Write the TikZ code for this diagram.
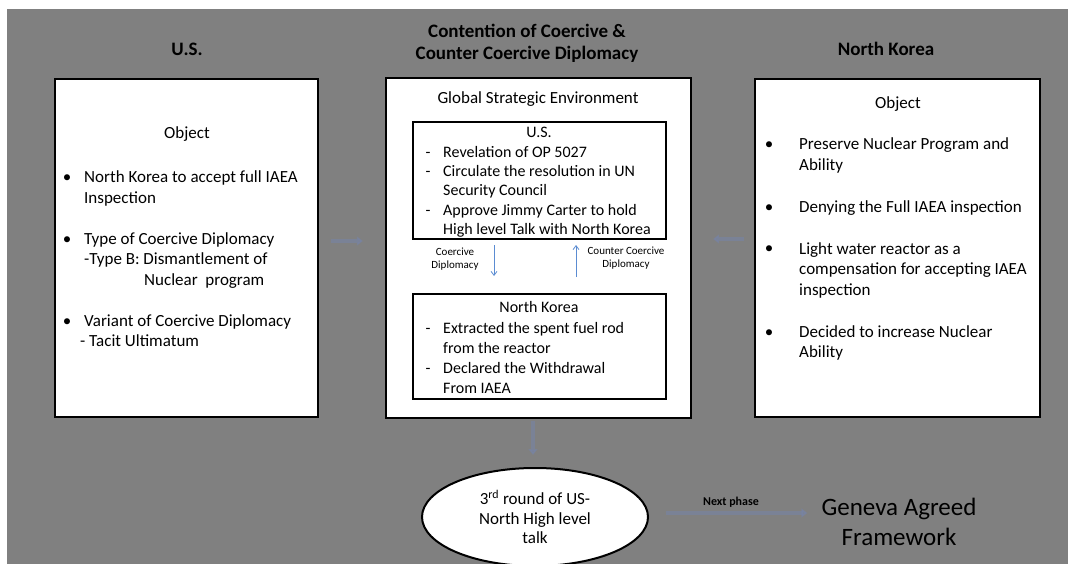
\documentclass[tikz,border=0pt]{standalone}
\usepackage{fontspec}
\setmainfont{Carlito}
\usepackage{tikz}
\usetikzlibrary{arrows.meta, positioning, shapes.geometric}

\newcommand{\txtbody}{\fontsize{17}{20.7}\selectfont}
\newcommand{\txtmid}{\fontsize{16}{19}\selectfont}

\begin{document}
\begin{tikzpicture}[x=1pt, y=-1pt, every node/.style={inner sep=0pt}]

% ------------------------
% Colors
% ------------------------
\definecolor{colBg}{RGB}{128,128,128}
\definecolor{colFaint}{RGB}{118,132,172}
\definecolor{colArr}{RGB}{91,140,210}

\tikzset{
  panel/.style={draw=black, line width=2.2pt, fill=white},
  inner/.style={draw=black, line width=2pt, fill=white},
  ttl/.style={font=\fontsize{19}{22}\selectfont\bfseries, align=center, anchor=base},
  txt/.style={font=\txtbody, align=left, anchor=base west},
  mtxt/.style={font=\txtmid, align=left, anchor=base west},
  small/.style={font=\fontsize{11}{13.5}\selectfont, align=center},
  faint/.style={draw=colFaint, opacity=0.5, line width=4pt, -{Triangle[width=9pt,length=6pt]}},
  thin/.style={draw=colArr, line width=0.8pt, -{Straight Barb[length=4pt,width=6pt]}}
}

% background
\useasboundingbox (0,0) rectangle (1068,564);
\fill[colBg] (7,9) rectangle (1068,564);

% ------------------------
% Titles
% ------------------------
% (base of a multi-line node = baseline of its last line)
\node[ttl] (usTitle) at (187,56) {U.S.};
\node[ttl] (midTitle) at (527,60) {Contention of Coercive \&\\Counter Coercive Diplomacy};
\node[ttl] (nkTitle) at (886,56) {North Korea};

% ------------------------
% LEFT: U.S. object
% ------------------------
\node[panel, minimum width=263pt, minimum height=338pt] (usBox) at (186.5,248) {};
\node[font=\txtbody, anchor=base] (usObj) at (187,139) {Object};
\foreach \yb [count=\i] in {183,244,326} {
    \node[font=\txtbody, anchor=base] (usDot\i) at (67,\yb) {\textbullet};
}
\node[txt] (usItemA) at (84,203.7) {North Korea to accept full IAEA\\Inspection};
\node[txt] (usItemB) at (84,285.4) {Type of Coercive Diplomacy\\-Type B: Dismantlement of\\\hspace*{60pt}Nuclear\ \ program};
\node[txt] (usItemC) at (84,346.7) {Variant of Coercive Diplomacy\\\hspace*{-4pt}- Tacit Ultimatum};

% ------------------------
% MIDDLE: strategic environment
% ------------------------
\node[panel, minimum width=305pt, minimum height=340pt] (midBox) at (538.5,248) {};
\node[font=\txtbody, anchor=base] (envTitle) at (538,104) {Global Strategic Environment};

% U.S. actions
\node[inner, minimum width=253pt, minimum height=117pt] (usAct) at (539.5,180.5) {};
\node[font=\txtmid, anchor=base] (usActTitle) at (539,138) {U.S.};
\foreach \yb [count=\i] in {158,177,215} {
    \node[font=\txtmid, anchor=base] (usDash\i) at (428,\yb) {-};
}
\node[mtxt] (usActA) at (443,158) {Revelation of OP 5027};
\node[mtxt] (usActB) at (443,196) {Circulate the resolution in UN\\Security Council};
\node[mtxt] (usActC) at (443,234) {Approve Jimmy Carter to hold\\High level Talk with North Korea};

% coercive / counter coercive
\coordinate (cdTop) at (494,245);
\coordinate (cdBot) at (494,276);
\coordinate (ccTop) at (576,245);
\coordinate (ccBot) at (576,277);
\draw[thin] (cdTop) -- (cdBot);
\draw[thin] (ccBot) -- (ccTop);
\node[small] (cdLbl) at (455,259) {Coercive\\Diplomacy};
\node[small] (ccLbl) at (626,258) {Counter Coercive\\Diplomacy};

% North Korea actions
\node[inner, minimum width=253pt, minimum height=105pt] (nkAct) at (539.5,346.5) {};
\node[font=\txtmid, anchor=base] (nkActTitle) at (539,312) {North Korea};
\foreach \yb [count=\i] in {333,373.5} {
    \node[font=\txtmid, anchor=base] (nkDash\i) at (428,\yb) {-};
}
\node[mtxt, font=\fontsize{16}{20}\selectfont] (nkActA) at (443,353) {Extracted the spent fuel rod\\from the reactor};
\node[mtxt, font=\fontsize{16}{20}\selectfont] (nkActB) at (443,393.5) {Declared the Withdrawal\\From IAEA};

% ------------------------
% RIGHT: North Korea object
% ------------------------
\node[panel, minimum width=285pt, minimum height=338pt] (nkBox) at (897.5,248) {};
\node[font=\txtbody, anchor=base] (nkObj) at (898,109) {Object};
\foreach \yb [count=\i] in {150,213,254,337} {
    \node[font=\txtbody, anchor=base] (nkDot\i) at (769,\yb) {\textbullet};
}
\node[txt] (nkItemA) at (799,170.7) {Preserve Nuclear Program and\\Ability};
\node[txt] (nkItemB) at (799,213) {Denying the Full IAEA inspection};
\node[txt] (nkItemC) at (799,295.4) {Light water reactor as a\\compensation for accepting IAEA\\inspection};
\node[txt] (nkItemD) at (799,357.7) {Decided to increase Nuclear\\Ability};

% ------------------------
% BOTTOM: talk and next phase
% ------------------------
\node[ellipse, draw=black, line width=2pt, fill=white, minimum width=226pt, minimum height=98pt,
      font=\fontsize{17}{19.5}\selectfont, align=center] (talk) at (535,517)
      {3\textsuperscript{rd} round of US-\\North High level\\talk};
\node[font=\fontsize{25}{30}\selectfont, align=center] (geneva) at (899,522) {Geneva Agreed\\Framework};
\node[font=\fontsize{12}{14}\selectfont\bfseries] (nextLbl) at (731,502) {Next phase};

% faint connectors
\draw[faint, shorten <=12pt, shorten >=22pt] (usBox.east |- 0,241) -- (midBox.west |- 0,241);
\draw[faint, shorten <=10pt, shorten >=21pt] (nkBox.west |- 0,239) -- (midBox.east |- 0,239);
\draw[faint, shorten <=2pt, shorten >=12pt] (midBox.south -| 533,0) -- (talk.north -| 533,0);
\draw[faint, shorten <=17pt, shorten >=14pt] (talk.east |- 0,513) -- (geneva.west |- 0,513);

\end{tikzpicture}
\end{document}
